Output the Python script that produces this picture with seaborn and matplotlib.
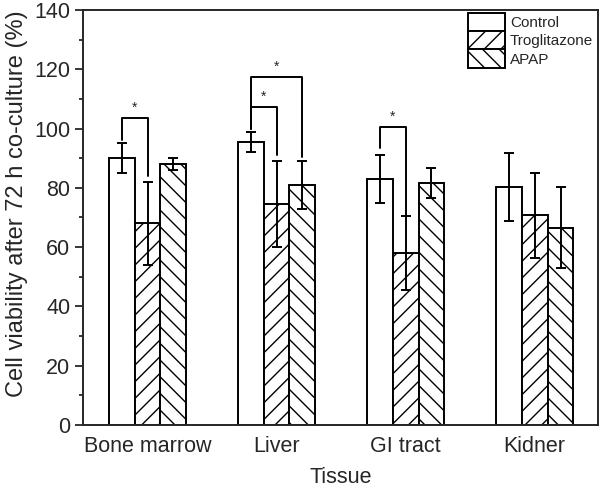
import numpy as np
import pandas as pd
import matplotlib
matplotlib.use("Agg")
import matplotlib.pyplot as plt
import seaborn as sns
from matplotlib.patches import Patch
from matplotlib.ticker import MultipleLocator

# data
tissues = ["Bone marrow", "Liver", "GI tract", "Kidner"]
groups = ["Control", "Troglitazone", "APAP"]
control = [90, 95.5, 83, 80.3]
control_err = [5, 3.3, 8, 11.5]
troglitazone = [68, 74.6, 58, 70.8]
troglitazone_err = [14, 14.6, 12.5, 14.3]
apap = [88, 81, 81.6, 66.5]
apap_err = [2, 8, 5, 13.7]
hatches = ["", "//", "\\\\"]

# significance brackets: (tissue index, group a, group b, bracket height, leg a bottom, leg b bottom)
brackets = [
    (0, 0, 1, 103.6, 96, 84),
    (1, 0, 1, 107.3, 100, 91),
    (1, 0, 2, 117.4, 100, 90.4),
    (2, 0, 1, 100.5, 93.4, 70.8),
]

df = pd.DataFrame({
    "Tissue": tissues * 3,
    "Group": np.repeat(groups, len(tissues)),
    "Value": control + troglitazone + apap,
})
errs = [control_err, troglitazone_err, apap_err]

sns.set_style("ticks")
plt.rcParams["font.family"] = ["Liberation Sans", "DejaVu Sans"]
plt.rcParams["hatch.linewidth"] = 1.0

fig = plt.figure(figsize=(6, 4.87), dpi=100)
ax = fig.add_axes([0.1383, 0.1273, 0.8583, 0.8522])

sns.barplot(data=df, x="Tissue", y="Value", hue="Group", width=0.6,
            palette=["white"] * 3, edgecolor="black", linewidth=1.4,
            errorbar=None, legend=False, ax=ax)

bar_conts = list(ax.containers)
centers = []
for i, cont in enumerate(bar_conts):
    xs, vals = [], []
    for bar in cont.patches:
        bar.set_hatch(hatches[i])
        xs.append(bar.get_x() + bar.get_width() / 2)
        vals.append(bar.get_height())
    centers.append(xs)
    ax.errorbar(xs, vals, yerr=errs[i], fmt="none", ecolor="black",
                elinewidth=1.4, capsize=3.3, capthick=1.4, zorder=5)

for t, a, b, h, la, lb in brackets:
    xa, xb = centers[a][t], centers[b][t]
    ax.plot([xa, xa, xb, xb], [la, h, h, lb], color="black", lw=1.4)
    ax.text((xa + xb) / 2, h + 1.0, "*", ha="center", va="bottom", fontsize=10)

ax.set_xlim(-0.5, 3.49)
ax.set_ylim(0, 140)
ax.yaxis.set_major_locator(MultipleLocator(20))
ax.yaxis.set_minor_locator(MultipleLocator(10))
ax.tick_params(axis="y", which="major", length=6, width=1.3, labelsize=15.5, pad=3)
ax.tick_params(axis="y", which="minor", length=3, width=1.3)
ax.tick_params(axis="x", length=0, labelsize=15.5, pad=8)
for s in ax.spines.values():
    s.set_linewidth(1.4)
    s.set_visible(True)

ax.set_xlabel("Tissue", fontsize=15.5, labelpad=7)
ax.set_ylabel("Cell viability after 72 h co-culture (%)", fontsize=17)
ax.yaxis.set_label_coords(-0.107, 0.533)

handles = [Patch(facecolor="white", edgecolor="black", hatch=h, linewidth=1.4) for h in hatches]
ax.legend(handles, groups, loc="upper left", bbox_to_anchor=(0.7476, 0.9935),
          frameon=False, fontsize=11,
          handlelength=2.42, handleheight=1.47, handletextpad=0.33,
          labelspacing=0.0, borderaxespad=0, borderpad=0)

fig.savefig("out.png", dpi=100)
